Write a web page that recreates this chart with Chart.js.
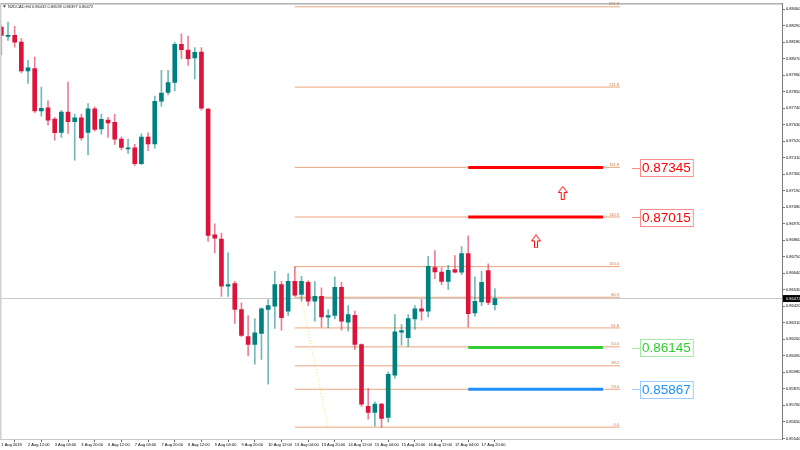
<!DOCTYPE html>
<html>
<head>
<meta charset="utf-8">
<script src="https://cdn.jsdelivr.net/npm/chart.js@4.4.1/dist/chart.umd.min.js"></script>
<style>
html,body{margin:0;padding:0;background:#fff}
#wrap{width:800px;height:450px}
</style>
</head>
<body>
<div id="wrap"><canvas id="chart"></canvas></div>
<script>
// NZDCAD H4 candles, bar 0 = first visible bar
const openP = [0.88281,0.88219,0.88226,0.88181,0.87989,0.88005,0.87723,0.87743,0.87668,0.87579,
  0.87714,0.87650,0.87676,0.87579,0.87736,0.87603,0.87661,0.87646,0.87535,0.87470,
  0.87477,0.87371,0.87548,0.87502,0.87787,0.87845,0.87912,0.88166,0.88128,0.88075,
  0.88115,0.87734,0.86897,0.86869,0.86554,0.86572,0.86399,0.86218,0.86166,0.86239,
  0.86399,0.86421,0.86565,0.86388,0.86587,0.86499,0.86580,0.86454,0.86487,0.86348,
  0.86359,0.86547,0.86315,0.86361,0.86166,0.85753,0.85713,0.85768,0.85679,0.85962,
  0.86248,0.86211,0.86337,0.86404,0.86388,0.86678,0.86649,0.86587,0.86665,0.86647,
  0.86771,0.86377,0.86450,0.86658,0.86432];
const highP = [0.88292,0.88314,0.88286,0.88204,0.88060,0.88082,0.87882,0.87789,0.87679,0.87727,
  0.87915,0.87701,0.87701,0.87772,0.87749,0.87701,0.87679,0.87699,0.87550,0.87535,
  0.87500,0.87570,0.87577,0.87821,0.87993,0.87993,0.88179,0.88237,0.88221,0.88144,
  0.88144,0.87739,0.86970,0.86908,0.86776,0.86587,0.86443,0.86359,0.86339,0.86410,
  0.86465,0.86653,0.86587,0.86638,0.86685,0.86620,0.86592,0.86587,0.86543,0.86399,
  0.86616,0.86580,0.86425,0.86388,0.86171,0.85872,0.85783,0.85774,0.85982,0.86366,
  0.86299,0.86366,0.86425,0.86465,0.86753,0.86791,0.86676,0.86693,0.86758,0.86819,
  0.86890,0.86616,0.86653,0.86704,0.86539];
const lowP = [0.88098,0.88193,0.88148,0.87975,0.87905,0.87710,0.87688,0.87628,0.87528,0.87546,
  0.87573,0.87395,0.87528,0.87429,0.87588,0.87568,0.87546,0.87500,0.87462,0.87440,
  0.87357,0.87365,0.87457,0.87473,0.87754,0.87829,0.87856,0.88071,0.88026,0.87935,
  0.87727,0.86853,0.86776,0.86487,0.86487,0.86306,0.86218,0.86089,0.86034,0.86067,
  0.85901,0.86273,0.86261,0.86359,0.86487,0.86454,0.86425,0.86321,0.86281,0.86277,
  0.86337,0.86261,0.86255,0.86133,0.85753,0.85668,0.85622,0.85615,0.85650,0.85941,
  0.86162,0.86151,0.86266,0.86328,0.86350,0.86605,0.86565,0.86532,0.86643,0.86631,
  0.86281,0.86354,0.86425,0.86432,0.86397];
const closeP = [0.88226,0.88226,0.88181,0.87989,0.88009,0.87723,0.87739,0.87661,0.87577,0.87714,
  0.87650,0.87676,0.87543,0.87736,0.87599,0.87666,0.87643,0.87535,0.87480,0.87477,
  0.87371,0.87548,0.87502,0.87787,0.87842,0.87912,0.88166,0.88131,0.88071,0.88113,
  0.87741,0.86892,0.86875,0.86554,0.86565,0.86399,0.86226,0.86166,0.86244,0.86404,
  0.86425,0.86565,0.86344,0.86587,0.86494,0.86587,0.86454,0.86487,0.86350,0.86359,
  0.86547,0.86321,0.86366,0.86166,0.85768,0.85713,0.85768,0.85673,0.85967,0.86251,
  0.86259,0.86339,0.86404,0.86388,0.86687,0.86649,0.86587,0.86660,0.86647,0.86771,
  0.86372,0.86454,0.86580,0.86447,0.86472];

// time axis, one label every 4 bars
const timeTickBars = [0,4,8,12,16,20,24,28,32,36,40,44,48,52,56,60,64,68,72];
const timeLabels = ['1 Aug 2018','2 Aug 12:00','3 Aug 04:00','3 Aug 20:00','6 Aug 12:00','7 Aug 04:00',
  '7 Aug 20:00','8 Aug 12:00','9 Aug 04:00','9 Aug 20:00','10 Aug 12:00','13 Aug 04:00','13 Aug 20:00',
  '14 Aug 12:00','15 Aug 04:00','15 Aug 20:00','16 Aug 12:00','17 Aug 04:00','17 Aug 20:00'];

// price axis labels
const priceTicks = [0.85540,0.85650,0.85760,0.85870,0.85980,0.86090,0.86200,0.86310,0.86420,0.86530,
  0.86640,0.86750,0.86860,0.86970,0.87080,0.87190,0.87300,0.87410,0.87520,0.87630,0.87740,0.87850,
  0.87960,0.88070,0.88180,0.88290,0.88400];

const symbolTitle = 'NZDCAD,H4';
const bidPrice = 0.86472;

// fibonacci from the 10 Aug high down to the 15 Aug low
const fibHigh = 0.86685, fibLow = 0.85615;
const fibAnchorBar = 44, fibLowBar = 48.98;
const fibLevels = [0, 23.6, 38.2, 50, 61.8, 80.9, 100, 130.9, 161.8, 211.8, 261.8];

// target lines with price boxes
const targetPrices = [0.87345, 0.87015, 0.86145, 0.85867];
const arrowBars = [84.16, 80.16];
const arrowPrices = [0.87176, 0.86853];

// layout (bar units on the x scale)
const X_MIN = -0.05, X_MAX = 117.04;
const FIB_END = 92.75, TGT_START = 70.0, TGT_END = 90.2, BOX_BAR = 95.75;
const targetColors = ['#FF0000', '#FF0000', '#32CD32', '#1E90FF'];
const targetBorders = ['rgba(255,0,0,0.45)', 'rgba(255,0,0,0.45)', 'rgba(50,205,50,0.45)', 'rgba(30,144,255,0.45)'];

const fibPrice = lv => fibLow + (fibHigh - fibLow) * lv / 100;

const bars = openP.map((_, i) => i);
const bull = bars.map(i => closeP[i] >= openP[i]);

function arrowImg(){
  const c = document.createElement('canvas');
  c.width = 10; c.height = 14;
  const g = c.getContext('2d');
  g.strokeStyle = '#FF0000';
  g.lineWidth = 1;
  g.beginPath();
  g.moveTo(5, 0.5); g.lineTo(9.5, 6.5); g.lineTo(6.5, 6.5); g.lineTo(6.5, 13.5);
  g.lineTo(3.5, 13.5); g.lineTo(3.5, 6.5); g.lineTo(0.5, 6.5); g.closePath();
  g.stroke();
  return c;
}

const datasets = [
  {type:'bar', data: bars.map(i => ({x:i, y:[openP[i], closeP[i]]})),
   backgroundColor: bull.map(b => b ? '#008080' : '#DC143C'),
   barThickness:4, grouped:false, minBarLength:1, order:0},
  {type:'bar', data: bars.map(i => ({x:i, y:[lowP[i], highP[i]]})),
   backgroundColor: bull.map(b => b ? 'rgba(0,128,128,0.55)' : 'rgba(220,20,60,0.55)'),
   barThickness:1, grouped:false, order:1}
];
fibLevels.forEach(lv => datasets.push({
  type:'line', data:[{x:fibAnchorBar, y:fibPrice(lv)}, {x:FIB_END, y:fibPrice(lv)}],
  borderColor:'#EBA57C', borderWidth:1, pointRadius:0, order:6
}));
targetPrices.forEach((p, k) => datasets.push({
  type:'line', data:[{x:TGT_START, y:p}, {x:TGT_END, y:p}],
  borderColor:targetColors[k], borderWidth:3, pointRadius:0, order:3
}));
datasets.push({type:'line', data:[{x:X_MIN, y:bidPrice}, {x:X_MAX, y:bidPrice}],
  borderColor:'#C8C8C8', borderWidth:1, pointRadius:0, order:7});
datasets.push({type:'line', data:[{x:fibAnchorBar, y:fibHigh}, {x:fibLowBar, y:fibLow}],
  borderColor:'#FFE066', borderWidth:1, borderDash:[1,2], pointRadius:0, order:4});
datasets.push({type:'line', data: arrowBars.map((b, k) => ({x:b, y:arrowPrices[k]})),
  showLine:false, pointStyle:arrowImg(), pointRadius:6, order:2});

const overlay = {
  id:'overlay',
  afterDatasetsDraw(chart){
    const {ctx, scales:{x, y}} = chart;
    ctx.save();
    // fib level captions
    ctx.font = '4px "Liberation Sans"';
    ctx.fillStyle = '#C8784A';
    ctx.textAlign = 'right';
    ctx.textBaseline = 'bottom';
    fibLevels.forEach(lv => {
      ctx.fillText(lv.toFixed(1), x.getPixelForValue(FIB_END) - 1, y.getPixelForValue(fibPrice(lv)) - 0.5);
    });
    // price boxes
    ctx.font = '13.5px "Liberation Sans"';
    ctx.textAlign = 'left';
    ctx.textBaseline = 'middle';
    targetPrices.forEach((p, k) => {
      const bx = x.getPixelForValue(BOX_BAR), by = y.getPixelForValue(p);
      const w = ctx.measureText(p.toFixed(5)).width + 4;
      ctx.strokeStyle = targetBorders[k];
      ctx.lineWidth = 1;
      ctx.beginPath();
      ctx.moveTo(bx - 8, Math.round(by) + 0.5); ctx.lineTo(bx, Math.round(by) + 0.5);
      ctx.stroke();
      ctx.fillStyle = '#fff';
      ctx.fillRect(bx, by - 8.5, w, 17);
      ctx.strokeRect(Math.round(bx) + 0.5, Math.round(by - 8.5) + 0.5, w, 17);
      ctx.fillStyle = targetColors[k];
      ctx.fillText(p.toFixed(5), bx + 2, by + 1);
    });
    ctx.restore();
  },
  afterDraw(chart){
    const {ctx, chartArea:a, scales:{y}} = chart;
    ctx.save();
    // frame
    ctx.strokeStyle = '#888';
    ctx.lineWidth = 1;
    ctx.beginPath(); ctx.moveTo(0, a.top + 0.5); ctx.lineTo(a.right, a.top + 0.5); ctx.stroke();
    ctx.strokeStyle = '#C8C8C8';
    ctx.beginPath(); ctx.moveTo(0, a.bottom + 0.5); ctx.lineTo(a.right, a.bottom + 0.5); ctx.stroke();
    ctx.fillStyle = '#D0D0D0';
    ctx.fillRect(0, a.top, 1.5, a.bottom - a.top);
    // title
    ctx.fillStyle = '#222';
    ctx.font = '4px "Liberation Sans"';
    ctx.textBaseline = 'middle';
    ctx.textAlign = 'left';
    ctx.beginPath(); ctx.moveTo(3, 5.5); ctx.lineTo(6, 5.5); ctx.lineTo(4.5, 7.5); ctx.closePath(); ctx.fill();
    const ohlc = [openP, highP, lowP, closeP].map(s => s[s.length - 1].toFixed(5)).join(' ');
    ctx.fillText(symbolTitle + ' ' + ohlc, 8, 6.5);
    // bid label on price axis
    const py = y.getPixelForValue(bidPrice);
    ctx.fillStyle = '#000';
    ctx.fillRect(a.right + 1, py - 3.5, 800 - a.right - 1, 7);
    ctx.fillStyle = '#fff';
    ctx.fillText(bidPrice.toFixed(5), a.right + 4, py);
    ctx.restore();
  }
};

new Chart(document.getElementById('chart'), {
  type:'bar',
  data:{datasets},
  options:{
    responsive:true,
    maintainAspectRatio:false,
    animation:false,
    layout:{autoPadding:false, padding:{top:2, left:1, right:0, bottom:0}},
    plugins:{legend:{display:false}, tooltip:{enabled:false}},
    scales:{
      x:{
        type:'linear', min:X_MIN, max:X_MAX, offset:false,
        afterBuildTicks: s => { s.ticks = timeTickBars.map(v => ({value:v})); },
        afterFit: s => { s.height = 11; },
        ticks:{callback:(v, i) => timeLabels[i], align:'start', maxRotation:0, autoSkip:false,
               font:{size:4, family:'Liberation Sans'}, color:'#000', padding:0},
        grid:{drawOnChartArea:false, drawTicks:true, tickLength:3, color:'#666'},
        border:{display:false}
      },
      y:{
        type:'linear', position:'right', min:0.85536, max:0.88439,
        afterBuildTicks: s => { s.ticks = priceTicks.map(v => ({value:v})); },
        afterFit: s => { s.width = 18; },
        ticks:{callback: v => v.toFixed(5), font:{size:4, family:'Liberation Sans'}, color:'#000', padding:1},
        grid:{drawOnChartArea:false, drawTicks:true, tickLength:3, color:'#777'},
        border:{display:true, color:'#777'}
      }
    }
  },
  plugins:[overlay]
});
</script>
</body>
</html>
